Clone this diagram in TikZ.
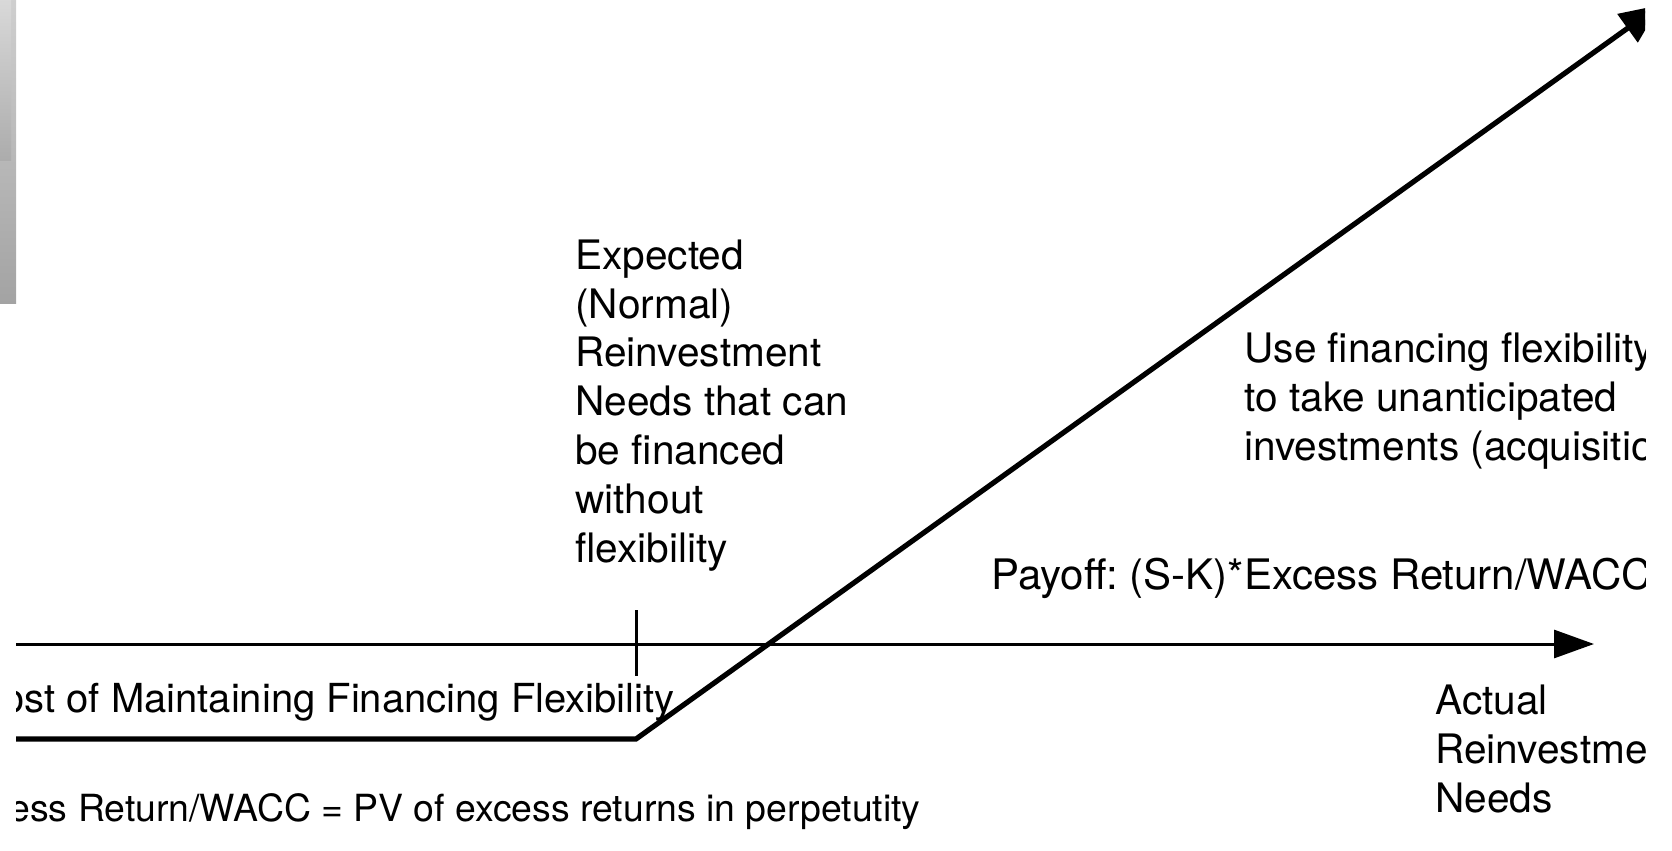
\documentclass[tikz,border=0pt]{standalone}
\usepackage{fontspec}
\setmainfont{TeX Gyre Heros}
\usetikzlibrary{arrows.meta}
\begin{document}
\begin{tikzpicture}[x=0.5pt, y=-0.5pt,
    lbl/.style={inner sep=0pt, align=left, font=\fontsize{20.3}{24.4}\selectfont\frenchspacing}]
	  \useasboundingbox (0,0) rectangle (1672,851);
	  % grey strip at the left edge
	  \shade[top color=gray!38, bottom color=gray!72] (0,0) rectangle (16,303);
	  \shade[top color=gray!30, bottom color=gray!65] (0,0) rectangle (11,160);
	  \begin{scope}
	  \clip (16,0) rectangle (1645,851);
	  \coordinate (axisL) at (0,644);
	  \coordinate (axisR) at (1594,644);
	  \coordinate (tickT) at (636,610);
	  \coordinate (tickB) at (636,676);
	  \coordinate (floorL) at (0,739);
	  \coordinate (kink) at (636,739);
	  \coordinate (payTip) at (1660,5);
	  \draw[black, line width=1.5pt, -{Triangle[length=20pt, width=14pt]}] (axisL) -- (axisR);
	  \draw[black, line width=1.5pt] (tickT) -- (tickB);
	  \draw[black, line width=2.6pt, line join=miter, -{Triangle[length=20pt, width=17pt]}] (floorL) -- (kink) -- (payTip);
	  \node[lbl, anchor=base west] (expected) at (575,562) {Expected\\(Normal)\\Reinvestment\\Needs that can\\be financed\\without\\flexibility};
	  \node[lbl, anchor=base west] (unantic) at (1244,460) {Use financing flexibility\\to take unanticipated\\investments (acquisitions)};
	  \node[lbl, anchor=base west, font=\fontsize{21}{25}\selectfont\frenchspacing] (payoff) at (991,589) {Payoff: (S-K)*Excess Return/WACC};
	  \node[lbl, anchor=base east, font=\fontsize{20}{24}\selectfont\frenchspacing] (costflex) at (675,712) {Cost of Maintaining Financing Flexibility};
	  \node[lbl, anchor=base east, font=\fontsize{18.7}{23}\selectfont\frenchspacing] (pvnote) at (921,821) {Excess Return/WACC = PV of excess returns in perpetutity};
	  \node[lbl, anchor=base west] (actual) at (1435,812) {Actual\\Reinvestment\\Needs};
	  \end{scope}
	\end{tikzpicture}
\end{document}
